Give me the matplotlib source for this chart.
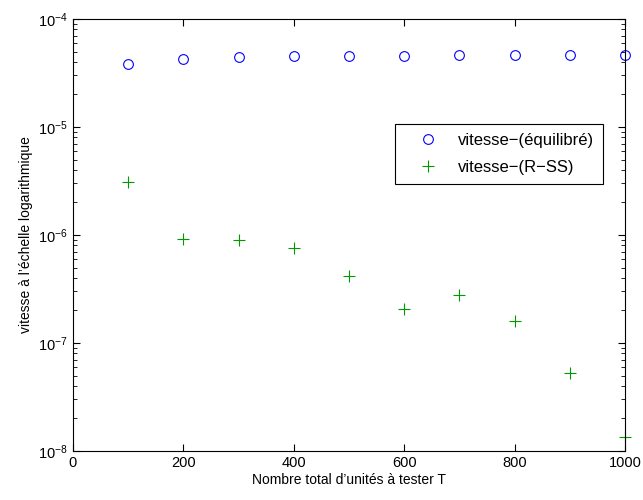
import matplotlib.pyplot as plt
import numpy as np

plt.rcParams['font.family'] = ['Liberation Sans', 'DejaVu Sans']

T = [100, 200, 300, 400, 500, 600, 700, 800, 900, 1000]
vitesse_equilibre = [3.81e-5, 4.23e-5, 4.41e-5, 4.51e-5, 4.54e-5,
                     4.58e-5, 4.61e-5, 4.64e-5, 4.67e-5, 4.68e-5]
vitesse_rss = [3.08e-6, 9.18e-7, 9.05e-7, 7.53e-7, 4.20e-7,
               2.06e-7, 2.81e-7, 1.59e-7, 5.24e-8, 1.36e-8]

fig = plt.figure(figsize=(6.43, 5.0), dpi=100)
ax = fig.add_axes([0.1135, 0.098, 0.8585, 0.864])

ax.semilogy(T, vitesse_equilibre, linestyle="none", marker="o", markersize=7,
            markerfacecolor="none", markeredgecolor="blue", markeredgewidth=0.8,
            label="vitesse\u2212(équilibré)", clip_on=False)
ax.semilogy(T, vitesse_rss, linestyle="none", marker="+", markersize=9,
            color="#009900", markeredgewidth=0.8,
            label="vitesse\u2212(R\u2212SS)", clip_on=False)

ax.set_xlim(0, 1000)
ax.set_ylim(1e-8, 1e-4)
ax.set_xticks([0, 200, 400, 600, 800, 1000])
ax.tick_params(which="both", direction="in", top=True, right=True, labelsize=10.5)
ax.tick_params(which="major", length=5)
ax.tick_params(which="minor", length=3)
for s in ax.spines.values():
    s.set_linewidth(0.8)

ax.set_xlabel("Nombre total d\u2019unités à tester T", fontsize=10, labelpad=2)
ax.set_ylabel("vitesse à l\u2019échelle logarithmique", fontsize=10, labelpad=4)

leg = ax.legend(loc="upper right", bbox_to_anchor=(0.96, 0.757), fontsize=12,
                fancybox=False, edgecolor="black", framealpha=1,
                handlelength=2.8, handletextpad=0.4, borderpad=0.55,
                labelspacing=0.7, borderaxespad=0)
leg.get_frame().set_linewidth(0.8)

plt.savefig("out.png", dpi=100)
